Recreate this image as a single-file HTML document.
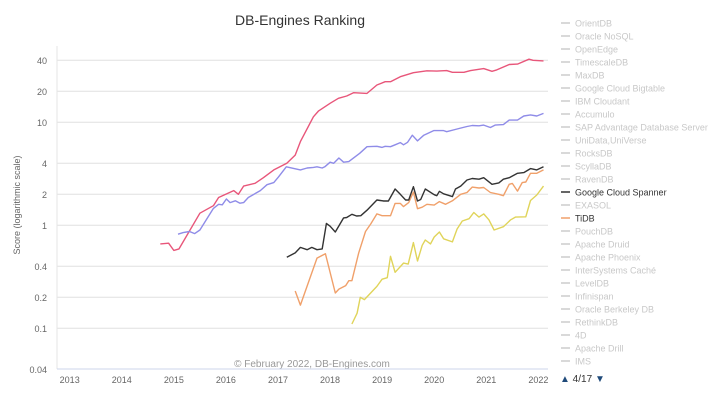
<!DOCTYPE html>
<html><head><meta charset="utf-8"><style>
html,body{margin:0;padding:0;background:#fff;}
svg{display:block;font-family:"Liberation Sans",sans-serif;}
</style></head><body>
<svg id="chart" width="720" height="400" xmlns="http://www.w3.org/2000/svg">
<text x="300" y="25" text-anchor="middle" font-size="14" fill="#333">DB-Engines Ranking</text>
<text transform="translate(20,205) rotate(-90)" text-anchor="middle" font-size="9" fill="#666">Score (logarithmic scale)</text>
<text x="312" y="367" text-anchor="middle" font-size="10" fill="#999">© February 2022, DB-Engines.com</text>
<g id="grid"></g><g id="axes"></g><g id="series"></g><g id="legend"></g>
</svg>
<script>
const yTicks=[40,20,10,4,2,1,0.4,0.2,0.1,0.04];
const yTickLabels=["40","20","10","4","2","1","0.4","0.2","0.1","0.04"];
const xYears=[2013,2014,2015,2016,2017,2018,2019,2020,2021,2022];

const redT=[2014.74,2014.9,2015.0,2015.1,2015.5,2015.76,2015.86,2016.15,2016.24,2016.34,2016.56,2016.72,2016.92,2017.17,2017.33,2017.43,2017.68,2017.78,2018.0,2018.16,2018.32,2018.45,2018.71,2018.9,2019.06,2019.16,2019.35,2019.6,2019.86,2020.05,2020.24,2020.35,2020.57,2020.7,2020.95,2021.11,2021.2,2021.44,2021.6,2021.82,2021.9,2022.1];
const redV=[0.66,0.67,0.57,0.59,1.31,1.55,1.86,2.17,2.0,2.4,2.56,2.9,3.45,4.0,4.8,6.5,11.3,12.9,15.3,17.1,18,19.4,19.1,23,24.8,24.8,27.7,30.3,31.6,31.4,31.8,30.6,30.6,31.8,33.2,31.3,32.3,36.4,36.7,41,40,39.5];

const purpleT=[2015.08,2015.18,2015.3,2015.4,2015.5,2015.76,2015.86,2015.93,2016.01,2016.08,2016.18,2016.27,2016.34,2016.43,2016.66,2016.79,2016.92,2017.01,2017.16,2017.43,2017.56,2017.68,2017.75,2017.85,2017.9,2018.0,2018.07,2018.17,2018.26,2018.36,2018.57,2018.71,2018.9,2019.0,2019.06,2019.16,2019.25,2019.35,2019.41,2019.49,2019.58,2019.68,2019.8,2019.99,2020.18,2020.24,2020.44,2020.63,2020.73,2020.86,2020.95,2021.08,2021.17,2021.33,2021.44,2021.6,2021.72,2021.85,2021.97,2022.1];
const purpleV=[0.82,0.85,0.87,0.83,0.9,1.46,1.6,1.58,1.8,1.66,1.73,1.64,1.66,1.86,2.17,2.48,2.6,2.95,3.7,3.45,3.6,3.65,3.7,3.6,3.7,4.1,4.0,4.5,4.1,4.15,5.0,5.8,5.85,5.7,5.85,5.8,6.05,6.35,6.05,6.4,7.5,6.6,7.5,8.3,8.3,8.1,8.6,9.1,9.3,9.25,9.4,8.9,9.4,9.5,10.5,10.5,11.5,11.8,11.5,12.2];

const spannerT=[2017.17,2017.33,2017.43,2017.56,2017.65,2017.75,2017.85,2017.93,2018.0,2018.1,2018.26,2018.32,2018.42,2018.51,2018.59,2018.71,2018.9,2019.03,2019.12,2019.25,2019.35,2019.45,2019.51,2019.6,2019.68,2019.74,2019.83,2020.0,2020.05,2020.1,2020.18,2020.35,2020.41,2020.51,2020.63,2020.73,2020.86,2020.95,2021.11,2021.24,2021.33,2021.44,2021.6,2021.72,2021.85,2021.97,2022.1];
const spannerV=[0.49,0.54,0.61,0.58,0.61,0.58,0.59,1.04,0.98,0.86,1.18,1.19,1.28,1.23,1.24,1.4,1.76,1.72,1.72,2.25,2.0,1.76,1.76,2.37,1.72,1.78,2.25,1.98,1.94,2.14,2.02,1.9,2.25,2.4,2.75,2.85,2.8,2.9,2.5,2.58,2.8,2.9,3.2,3.25,3.55,3.45,3.7];

const tidbT=[2017.33,2017.43,2017.75,2017.91,2018.1,2018.17,2018.3,2018.36,2018.42,2018.55,2018.68,2018.78,2018.9,2019.0,2019.16,2019.25,2019.35,2019.41,2019.51,2019.6,2019.68,2019.77,2019.86,2020.0,2020.1,2020.22,2020.35,2020.51,2020.63,2020.73,2020.86,2020.95,2021.08,2021.24,2021.33,2021.44,2021.5,2021.6,2021.69,2021.76,2021.85,2021.97,2022.1];
const tidbV=[0.23,0.168,0.48,0.53,0.22,0.24,0.26,0.29,0.29,0.54,0.87,1.03,1.29,1.24,1.24,1.63,1.63,1.52,1.66,2.1,1.45,1.5,1.6,1.57,1.7,1.6,1.73,2.0,2.08,2.35,2.3,2.33,2.08,2.0,1.94,2.5,2.55,2.15,2.6,2.63,3.2,3.2,3.45];

const yellowT=[2018.42,2018.52,2018.58,2018.66,2018.9,2019.0,2019.1,2019.16,2019.25,2019.41,2019.5,2019.6,2019.68,2019.77,2019.83,2019.93,2020.0,2020.1,2020.18,2020.35,2020.44,2020.54,2020.67,2020.76,2020.86,2020.95,2021.05,2021.15,2021.33,2021.47,2021.56,2021.76,2021.85,2021.97,2022.1];
const yellowV=[0.11,0.14,0.2,0.19,0.255,0.3,0.31,0.5,0.35,0.43,0.42,0.68,0.45,0.64,0.72,0.66,0.77,0.86,0.74,0.69,0.92,1.1,1.16,1.33,1.2,1.29,1.13,0.9,0.97,1.13,1.2,1.21,1.74,1.97,2.4];

const legendNames=["OrientDB","Oracle NoSQL","OpenEdge","TimescaleDB","MaxDB","Google Cloud Bigtable","IBM Cloudant","Accumulo","SAP Advantage Database Server","UniData,UniVerse","RocksDB","ScyllaDB","RavenDB","Google Cloud Spanner","EXASOL","TiDB","PouchDB","Apache Druid","Apache Phoenix","InterSystems Caché","LevelDB","Infinispan","Oracle Berkeley DB","RethinkDB","4D","Apache Drill","IMS"];

const NS="http://www.w3.org/2000/svg";
const L=57,R=548,B=369;
function xs(t){return 69.7+(t-2013)*52.07;}
function ys(v){return 225.3-103*Math.log10(v);}
function mk(tag,attrs,parent){const e=document.createElementNS(NS,tag);for(const k in attrs)e.setAttribute(k,attrs[k]);parent.appendChild(e);return e;}
const grid=document.getElementById('grid'),axes=document.getElementById('axes'),ser=document.getElementById('series'),leg=document.getElementById('legend');

yTicks.forEach((v,i)=>{
  const y=ys(v);
  if(v!==0.04){const g=mk('line',{x1:L,x2:R,y1:y,y2:y,stroke:'#e0e0e0','stroke-width':1},grid);
  
  }
  const t=mk('text',{x:47,y:y+3.5,'text-anchor':'end','font-size':9,fill:'#666'},axes);
  t.textContent=yTickLabels[i];
  
  
});
const ax=mk('line',{x1:L,x2:L,y1:46,y2:B,stroke:'#e6e6e6'},axes);


const bx=mk('line',{x1:L,x2:R,y1:B,y2:B,stroke:'#ccd6eb'},axes);


xYears.forEach(yr=>{
  const t=mk('text',{x:xs(yr),y:383,'text-anchor':'middle','font-size':9,fill:'#666'},axes);
  t.textContent=String(yr);
  
  
});

function drawSeries(T,V,color,name){
  const d=T.map((t,i)=>(i?'L':'M')+xs(t).toFixed(1)+','+ys(V[i]).toFixed(1)).join('');
  const p=mk('path',{d:d,fill:'none',stroke:color,'stroke-width':1.4,'stroke-linejoin':'round'},ser);
  
  
}
drawSeries(redT,redV,'#e8567a','series-line-red');
drawSeries(purpleT,purpleV,'#8f8ce8','series-line-purple');
drawSeries(yellowT,yellowV,'#e0d45a','series-line-yellow');
drawSeries(tidbT,tidbV,'#f0a06a','series-line-tidb');
drawSeries(spannerT,spannerV,'#333333','series-line-google-cloud-spanner');

legendNames.forEach((n,i)=>{
  const y=23+i*13;
  const active=n==="Google Cloud Spanner"||n==="TiDB";
  const col=n==="TiDB"?'#f0a06a':(n==="Google Cloud Spanner"?'#333':'#ccc');
  const g=mk('g',{},leg);
  
  
  mk('line',{x1:561,x2:570,y1:y,y2:y,stroke:col,'stroke-width':1.5},g);
  const t=mk('text',{x:575,y:y+3.3,'font-size':9,fill:active?'#333':'#c8c8c8'},g);
  t.textContent=n;
});
const nav=mk('text',{x:560,y:382,'font-size':10,fill:'#333'},leg);


nav.innerHTML='<tspan fill="#1f4a7a">▲</tspan> 4/17 <tspan fill="#1f4a7a">▼</tspan>';
</script>
</body></html>
